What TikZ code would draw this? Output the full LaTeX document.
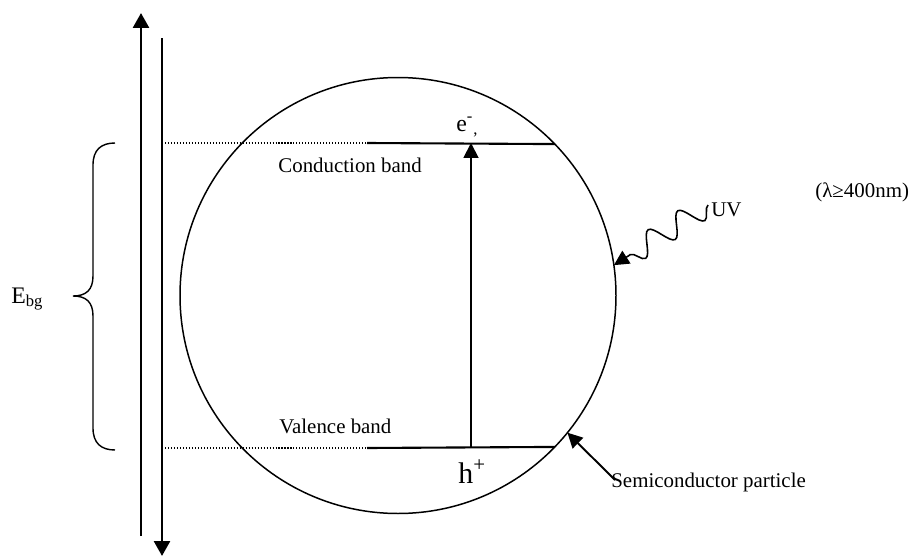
\documentclass[tikz,border=0pt]{standalone}
\usepackage{fontspec}
\setmainfont{Liberation Serif}
\usetikzlibrary{arrows.meta,decorations.pathmorphing}

\begin{document}
\begin{tikzpicture}[x=0.02cm,y=-0.02cm,
  lbl/.style={inner sep=0pt, anchor=base west, font=\fontsize{11.9}{14}\selectfont},
  band/.style={line width=1.2pt},
  gapline/.style={line width=0.6pt, dash pattern=on 0.6pt off 1.1pt},
  axis/.style={line width=1.7pt, -{Triangle[width=9pt,length=8.5pt]}},
  arr/.style={line width=1.1pt, -{Triangle[width=8.5pt,length=8.5pt]}},
  wave/.style={line width=0.9pt, decorate,
               decoration={snake, amplitude=6.5pt, segment length=20pt, post length=10pt},
               -{Triangle[width=8.5pt,length=8.5pt]}}
]
\useasboundingbox (0,0) rectangle (914,558);

\node[draw, circle, line width=0.85pt, minimum size=436*0.02cm, inner sep=0pt, outer sep=0pt]
  (particle) at (398,295.5) {};

% energy axis
\coordinate (upfoot)   at (141,536);
\coordinate (uptip)    at (141,13);
\coordinate (downfoot) at (162,38);
\coordinate (downtip)  at (162,556);
\draw[axis] (upfoot) -- (uptip);
\draw[axis] (downfoot) -- (downtip);

% bands
\coordinate (cbL) at (165,143);
\coordinate (cbM) at (367,143);
\coordinate (vbL) at (165,448);
\coordinate (vbM) at (367,448);
\draw[gapline] (cbL) -- (cbM);
\draw[gapline] (vbL) -- (vbM);
\draw[band] (cbM) -- (particle.44.4);
\draw[band] (vbM) -- (particle.-44.4);

\node[lbl] (cb) at (278,172) {Conduction band};
\node[lbl] (vb) at (279,433) {Valence band};

\node[lbl, font=\fontsize{13.5}{15}\selectfont] (elec) at (456,131)
  {e\textsuperscript{-}\textsubscript{,}};
\node[lbl, font=\fontsize{17}{19}\selectfont] (hole) at (458,483) {h\textsuperscript{+}};

\coordinate (hbase) at (471,448);
\coordinate (etop)  at (471,143);
\draw[arr] (hbase) -- (etop);

% band gap
\node[lbl, font=\fontsize{13.5}{16}\selectfont] (ebg) at (11,303) {E\textsubscript{bg}};
\draw[line width=0.8pt] (115,143) .. controls (101,143) and (93,150) .. (93,165)
  -- (93,276) .. controls (93,290) and (86,296) .. (73,296)
  .. controls (86,296) and (93,302) .. (93,316)
  -- (93,428) .. controls (93,443) and (101,450) .. (115,450);

% light
\node[lbl] (uv) at (711,216) {UV};
\node[lbl] (lambda) at (815,197) {(λ≥400nm)};
\coordinate (uvstart) at (708,205);
\draw[wave] (uvstart) -- (particle.8.3);

% particle label
\node[lbl] (semi) at (611,487) {Semiconductor particle};
\coordinate (semitail) at (615,480);
\draw[arr] (semitail) -- (particle.-39.2);
\end{tikzpicture}
\end{document}
